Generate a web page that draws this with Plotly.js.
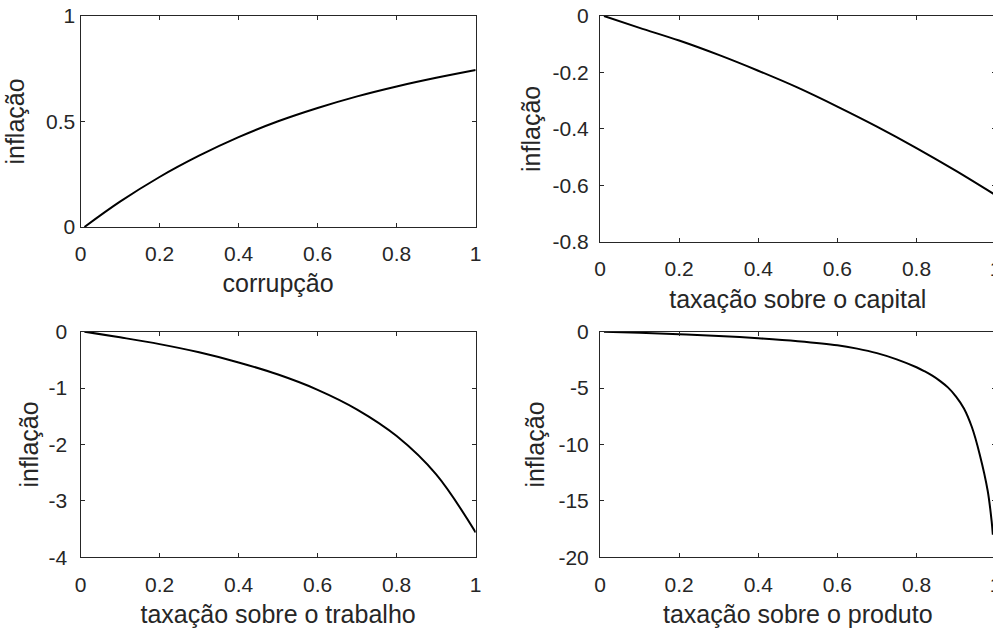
<!DOCTYPE html>
<html>
<head>
<meta charset="utf-8">
<script src="https://cdn.plot.ly/plotly-3.0.1.min.js"></script>
<style>
html,body{margin:0;padding:0;overflow:hidden;background:#fff;}
#chart{width:997px;height:630px;}
</style>
</head>
<body>
<div id="chart"></div>
<script>
// ---- data ----
var xCorrupcao = [0.01,0.1,0.2,0.3,0.4,0.5,0.6,0.7,0.8,0.9,1.0];
var yCorrupcao = [0,0.12,0.237,0.338,0.426,0.501,0.564,0.619,0.666,0.707,0.744];

var xCapital = [0.01,0.1,0.2,0.3,0.4,0.5,0.6,0.7,0.8,0.9,1.0];
var yCapital = [0,-0.042,-0.087,-0.138,-0.194,-0.254,-0.321,-0.392,-0.468,-0.549,-0.635];

var xTrabalho = [0.01,0.1,0.2,0.3,0.4,0.5,0.6,0.7,0.8,0.9,1.0];
var yTrabalho = [0,-0.1,-0.22,-0.365,-0.545,-0.76,-1.03,-1.38,-1.85,-2.53,-3.56];

var xProduto = [0.01,0.1,0.2,0.3,0.4,0.5,0.6,0.65,0.7,0.75,0.8,0.82,0.84,0.86,0.88,0.9,0.92,0.94,0.96,0.98,0.99,0.993];
var yProduto = [0,-0.09,-0.22,-0.38,-0.58,-0.84,-1.2,-1.5,-1.9,-2.45,-3.15,-3.5,-3.9,-4.38,-4.96,-5.75,-6.8,-8.45,-10.9,-14.1,-16.8,-18.0];

var xTickVals = [0,0.2,0.4,0.6,0.8,1];
var xTickText = ['0','0.2','0.4','0.6','0.8','1'];
var yTickValsCorr = [0,0.5,1];
var yTickTextCorr = ['0','0.5','1'];
var yTickValsCap = [-0.8,-0.6,-0.4,-0.2,0];
var yTickTextCap = ['-0.8','-0.6','-0.4','-0.2','0'];
var yTickValsTrab = [-4,-3,-2,-1,0];
var yTickTextTrab = ['-4','-3','-2','-1','0'];
var yTickValsProd = [-20,-15,-10,-5,0];
var yTickTextProd = ['-20','-15','-10','-5','0'];

var xLabels = ['corrupção','taxação sobre o capital','taxação sobre o trabalho','taxação sobre o produto'];
var yLabel = 'inflação';

// ---- styling ----
var W = 997, H = 630;
var INK = '#262626';
var FONT = 'Liberation Sans, Arial, sans-serif';
var tickFont = {family: FONT, size: 21, color: INK};
var titleFont = {family: FONT, size: 25, color: INK};

function line(x, y, xa, ya) {
  return {x: x, y: y, xaxis: xa, yaxis: ya, type: 'scatter', mode: 'lines',
          line: {color: '#000', width: 2, shape: 'spline', smoothing: 1},
          hoverinfo: 'skip', showlegend: false};
}

function xAxis(domPx, anchor, title, labStand, titStand) {
  return {domain: [domPx[0]/W, domPx[1]/W], anchor: anchor, range: [0,1],
          tickvals: xTickVals, ticktext: xTickText, tickfont: tickFont,
          ticks: 'inside', ticklen: 4, tickwidth: 1, tickcolor: INK,
          showline: true, linecolor: INK, linewidth: 1, mirror: 'allticks',
          showgrid: false, zeroline: false, automargin: false, fixedrange: true,
          ticklabelstandoff: labStand, ticklabeloverflow: 'allow',
          title: {text: title, font: titleFont, standoff: titStand}};
}
function yAxis(domPx, anchor, range, vals, text, labStand, titStand) {
  return {domain: [1 - domPx[1]/H, 1 - domPx[0]/H], anchor: anchor, range: range,
          tickvals: vals, ticktext: text, tickfont: tickFont,
          ticks: 'inside', ticklen: 4, tickwidth: 1, tickcolor: INK,
          showline: true, linecolor: INK, linewidth: 1, mirror: 'allticks',
          showgrid: false, zeroline: false, automargin: false, fixedrange: true,
          ticklabelstandoff: labStand, ticklabeloverflow: 'allow',
          title: {text: yLabel, font: titleFont, standoff: titStand}};
}

var data = [
  line(xCorrupcao, yCorrupcao, 'x', 'y'),
  line(xCapital, yCapital, 'x2', 'y2'),
  line(xTrabalho, yTrabalho, 'x3', 'y3'),
  line(xProduto, yProduto, 'x4', 'y4')
];

var layout = {
  width: W, height: H,
  margin: {l: 0, r: 0, t: 0, b: 0, pad: 0},
  paper_bgcolor: '#fff', plot_bgcolor: '#fff',
  showlegend: false,
  xaxis:  xAxis([80.5, 475.7], 'y',  xLabels[0], 8, 10),
  yaxis:  yAxis([16, 227], 'x', [0,1], yTickValsCorr, yTickTextCorr, 0, 14),
  xaxis2: xAxis([600, 995.6], 'y2', xLabels[1], 8, 11),
  yaxis2: yAxis([16, 241.7], 'x2', [-0.8,0], yTickValsCap, yTickTextCap, 6, 4),
  xaxis3: xAxis([80.5, 475.7], 'y3', xLabels[2], 8, 10),
  yaxis3: yAxis([331.7, 557.3], 'x3', [-4,0], yTickValsTrab, yTickTextTrab, 8, 2),
  xaxis4: xAxis([600, 995.6], 'y4', xLabels[3], 8, 10),
  yaxis4: yAxis([331.7, 557.3], 'x4', [-20,0], yTickValsProd, yTickTextProd, 6, 6)
};

Plotly.newPlot('chart', data, layout, {staticPlot: true, displayModeBar: false});
</script>
</body>
</html>
